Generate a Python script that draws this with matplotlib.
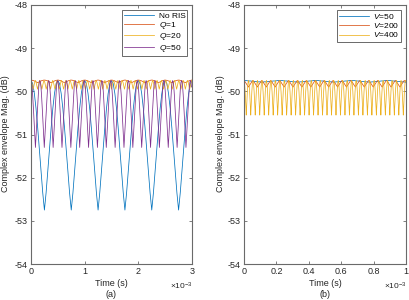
import numpy as np
import matplotlib
matplotlib.use("Agg")
import matplotlib.pyplot as plt

plt.rcParams['font.family'] = ['Liberation Sans', 'DejaVu Sans']
plt.rcParams['mathtext.fontset'] = 'custom'
plt.rcParams['mathtext.it'] = 'Liberation Sans:italic'
plt.rcParams['mathtext.rm'] = 'Liberation Sans'

# ---------------- data ----------------
# each series: half-cycle profile from peak to trough (dB), and period (ms)
# panel (a)
a_labels = ['No RIS', r'$Q$=1', r'$Q$=20', r'$Q$=50']
a_half = [
    [-49.75, -49.82, -50.05, -50.40, -50.85, -51.35, -51.85, -52.35, -52.75],   # No RIS
    [-49.74, -49.74, -49.75, -49.75, -49.76, -49.77, -49.78, -49.79, -49.80],   # Q=1
    [-49.75, -49.76, -49.78, -49.80, -49.83, -49.86, -49.89, -49.92, -49.95],   # Q=20
    [-49.75, -49.79, -49.90, -50.08, -50.30, -50.55, -50.80, -51.06, -51.30],   # Q=50
]
a_period_ms = [0.5, 0.25, 0.081, 0.165]
a_xmax_ms = 3.0

# panel (b)
b_labels = [r'$V$=50', r'$V$=200', r'$V$=400']
b_half = [
    [-49.75, -49.75, -49.76, -49.76, -49.77, -49.77, -49.78, -49.78, -49.79],   # V=50
    [-49.75, -49.76, -49.78, -49.80, -49.82, -49.84, -49.86, -49.88, -49.90],   # V=200
    [-49.75, -49.77, -49.82, -49.90, -50.00, -50.12, -50.26, -50.40, -50.55],   # V=400
]
b_period_ms = [0.222, 0.055, 0.0277]
b_xmax_ms = 1.0

y_ticks = [-54, -53, -52, -51, -50, -49, -48]
a_xticks = [0, 1, 2, 3]
b_xticks = [0, 0.2, 0.4, 0.6, 0.8, 1]

colors = ['#0072BD', '#D95319', '#EDB120', '#7E2F8E']


def build(half, period, xmax):
    cyc = list(half) + list(half[-2:0:-1])
    n_per = len(cyc)
    ncyc = int(np.ceil(xmax / period)) + 1
    y = np.array(cyc * ncyc + [cyc[0]])
    x = np.arange(len(y)) * (period / n_per)
    keep = x <= xmax + 1e-12
    return x[keep] * 1e-3, y[keep]


W, H = 409, 300
fig = plt.figure(figsize=(W / 100, H / 100), dpi=100)
axA = fig.add_axes([31 / W, 36 / H, 161 / W, 259 / H])
axB = fig.add_axes([244 / W, 36 / H, 162 / W, 259 / H])

for i in range(len(a_labels)):
    x, y = build(a_half[i], a_period_ms[i], a_xmax_ms)
    axA.plot(x, y, color=colors[i], lw=0.55, label=a_labels[i])
for i in range(len(b_labels)):
    x, y = build(b_half[i], b_period_ms[i], b_xmax_ms)
    axB.plot(x, y, color=colors[i], lw=0.55, label=b_labels[i])

spine_c = '#6a6a6a'
txt_c = '#262626'
panels = [(axA, a_xticks, a_xmax_ms, '(a)', 31, 192, 6),
          (axB, b_xticks, b_xmax_ms, '(b)', 244, 406, 220)]
for ax, xt, xmax, lab, x0, x1, ylx in panels:
    ax.set_xlim(0, xmax * 1e-3)
    ax.set_ylim(-54, -48)
    ax.set_yticks(y_ticks)
    ax.set_yticklabels([str(v) for v in y_ticks])
    ax.set_xticks([v * 1e-3 for v in xt])
    ax.set_xticklabels([('%g' % v) for v in xt])
    ax.tick_params(direction='in', top=True, right=True, length=2.5, width=0.6,
                   color=spine_c, labelsize=6.5, labelcolor=txt_c, pad=2.5)
    for s in ax.spines.values():
        s.set_color(spine_c)
        s.set_linewidth(0.8)
    fig.text(ylx / W, 1 - 134 / H, 'Complex envelope Mag. (dB)', rotation=90,
             ha='center', va='center', fontsize=6.5, color=txt_c)
    xc = (x0 + x1) / 2
    fig.text(xc / W, 1 - 283.5 / H, 'Time (s)', ha='center', va='center',
             fontsize=6.5, color=txt_c)
    fig.text(xc / W, 1 - 294.5 / H, lab, ha='center', va='center',
             fontsize=6.5, color=txt_c)
    fig.text((x1 + 1) / W, 1 - 286 / H, r'$\times\mathregular{10^{-3}}$',
             ha='right', va='center', fontsize=6, color=txt_c)
    leg = ax.legend(loc='upper right', fontsize=6, frameon=True, fancybox=False,
                    edgecolor='#262626', handlelength=3.6, borderpad=0.25,
                    labelspacing=0.05, handletextpad=0.5, borderaxespad=0.55)
    leg.get_frame().set_linewidth(0.6)

fig.savefig('out.png', dpi=100)
